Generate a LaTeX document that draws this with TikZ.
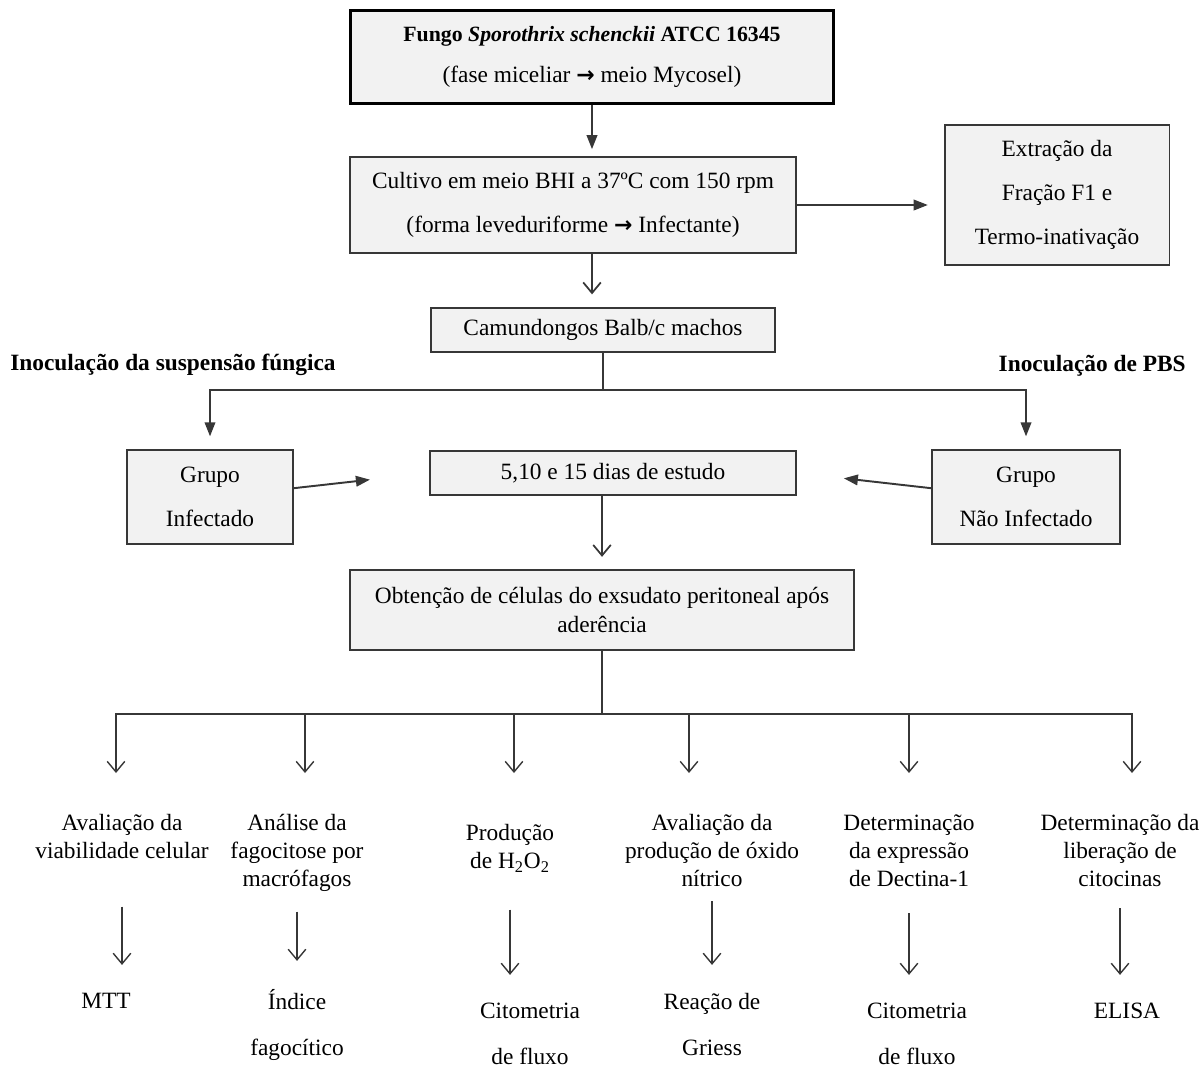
\documentclass[tikz,border=0pt]{standalone}
\usepackage{fontspec}
\setmainfont{Liberation Serif}
\newfontfamily\arrowfont{DejaVu Sans}
\newcommand\thickarrow{{\arrowfont\bfseries\fontsize{12.5}{12.5}\selectfont →}}
\usetikzlibrary{arrows.meta}
\definecolor{boxgray}{RGB}{242,242,242}
\definecolor{edgegray}{RGB}{55,55,55}
\tikzstyle{stage}=[draw=edgegray, line width=1.1pt, fill=boxgray, align=center, inner sep=0pt]
\tikzstyle{edge}=[draw=edgegray, line width=1.1pt]
\tikzstyle{fill>}=[edge, -{Triangle[length=8pt,width=6pt]}]
\tikzstyle{barb>}=[edge, line width=0.8pt, -{Straight Barb[length=6pt,width=10pt]}]
\tikzstyle{assay}=[align=center, inner sep=0pt, anchor=north, font=\fontsize{13.3}{16}\selectfont]
\tikzstyle{method}=[align=center, inner sep=0pt, anchor=north, font=\fontsize{13.3}{26}\selectfont]

\begin{document}
\begin{tikzpicture}[x=0.02cm, y=-0.02cm, font=\fontsize{13.3}{25}\selectfont]
\useasboundingbox (0,0) rectangle (1202,1068);
\node[stage, draw=black, line width=1.8pt, minimum width=275pt, minimum height=52.7pt, font=\fontsize{13.3}{23.8}\selectfont] (fungo) at (592,57) {{\fontsize{12.4}{14}\selectfont\textbf{Fungo \textit{Sporothrix schenckii} ATCC 16345}}\\(fase miceliar \thickarrow{} meio Mycosel)};
\node[stage, minimum width=253.4pt, minimum height=54.4pt] (cultivo) at (573,205) {Cultivo em meio BHI a 37ºC com 150 rpm\\(forma leveduriforme \thickarrow{} Infectante)};
\node[stage, minimum width=128pt, minimum height=79.4pt] (extracao) at (1057,195) {Extração da\\Fração F1 e\\Termo-inativação};
\node[stage, minimum width=195.6pt, minimum height=25.5pt] (camund) at (603,330) {Camundongos Balb/c machos};
\node[stage, minimum width=94pt, minimum height=53.9pt] (infect) at (210,497) {Grupo\\Infectado};
\node[stage, minimum width=208pt, minimum height=25.5pt] (dias) at (613,473) {5,10 e 15 dias de estudo};
\node[stage, minimum width=106.6pt, minimum height=53.9pt] (naoinf) at (1026,497) {Grupo\\Não Infectado};
\node[stage, minimum width=287pt, minimum height=45.4pt, font=\fontsize{13.3}{16.4}\selectfont] (obtencao) at (602,610) {Obtenção de células do exsudato peritoneal após\\aderência};
\node[anchor=west, inner sep=0pt, font=\fontsize{13.3}{16}\selectfont\bfseries] (inocfung) at (10,365) {Inoculação da suspensão fúngica};
\node[anchor=east, inner sep=0pt, font=\fontsize{13.3}{16}\selectfont\bfseries] (inocpbs) at (1186,366) {Inoculação de PBS};

\node[assay] (a1) at (122,814) {Avaliação da\\viabilidade celular};
\node[assay] (a2) at (297,814) {Análise da\\fagocitose por\\macrófagos};
\node[assay] (a3) at (510,824) {Produção\\de H\textsubscript{2}O\textsubscript{2}};
\node[assay] (a4) at (712,814) {Avaliação da\\produção de óxido\\nítrico};
\node[assay] (a5) at (909,814) {Determinação\\da expressão\\de Dectina-1};
\node[assay] (a6) at (1120,814) {Determinação da\\liberação de\\citocinas};

\node[method] (r1) at (106,993) {MTT};
\node[method] (r2) at (297,989) {Índice\\fagocítico};
\node[method] (r3) at (530,1003) {Citometria\\de fluxo};
\node[method] (r4) at (712,993) {Reação de\\Griess};
\node[method] (r5) at (917,1003) {Citometria\\de fluxo};
\node[method] (r6) at (1127,1003) {ELISA};

\coordinate (split) at (603,390);
\coordinate (hub) at (602,714);

\draw[fill>, shorten >=4pt] (fungo.south) -- (fungo.south |- cultivo.north);
\draw[fill>, shorten >=9pt] (cultivo.east) -- (cultivo.east -| extracao.west);
\draw[barb>, line width=1pt, shorten >=7pt] (cultivo.south -| fungo.south) -- (camund.north -| fungo.south);
\draw[edge] (camund.south) -- (split);
\draw[fill>, shorten >=7pt] (split) -| (infect.north);
\draw[fill>, shorten >=7pt] (split) -| (naoinf.north);
\draw[fill>, shorten >=34pt] ([yshift=5pt]infect.east) -- (dias.west);
\draw[fill>, shorten >=27pt] ([yshift=5pt]naoinf.west) -- (dias.east);
\draw[barb>, line width=1pt, shorten >=7pt] (dias.south -| obtencao.north) -- (obtencao.north);
\draw[edge] (obtencao.south) -- (hub);
\foreach \n/\x in {1/116,2/305,3/514,4/689,5/909,6/1132} {
	\coordinate (t\n) at (\x,773);
	\draw[barb>] (hub) -| (t\n);
}
\foreach \n/\gap in {1/27,2/11,3/21,4/8,5/15,6/12} {
	\draw[barb>, shorten <=\gap pt, shorten >=16pt] (a\n.south) -- (a\n.south |- r\n.north);
}
\end{tikzpicture}
\end{document}
